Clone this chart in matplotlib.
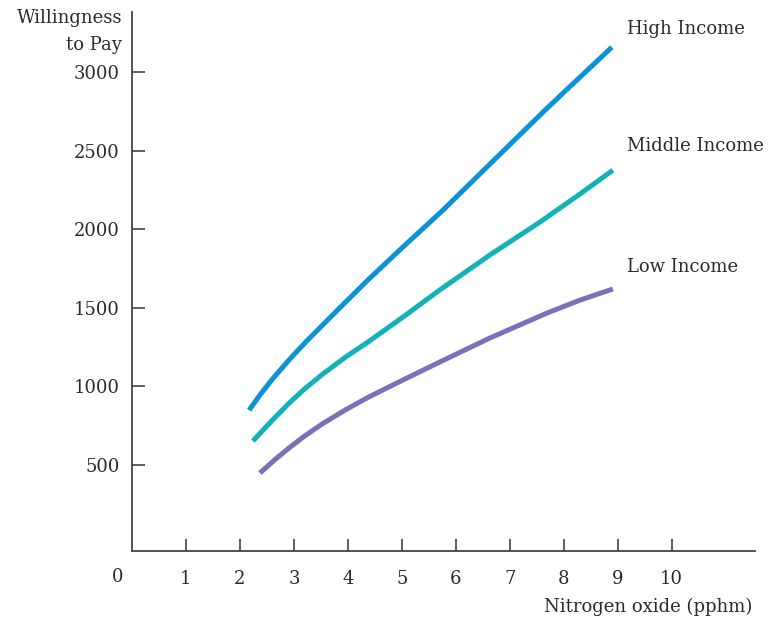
import matplotlib
matplotlib.use("Agg")
from matplotlib import pyplot as plt

# values
high_x = [2.17, 2.38, 2.61, 2.9, 3.24, 3.85, 4.37, 5.02, 5.76, 6.63, 7.69, 8.89]
high_y = [849, 950, 1050, 1165, 1290, 1500, 1677, 1887, 2121, 2414, 2770, 3158]

mid_x = [2.24, 2.6, 2.93, 3.2, 3.54, 3.95, 4.37, 5.02, 5.70, 6.63, 7.56, 8.30, 8.91]
mid_y = [653, 785, 900, 985, 1080, 1185, 1282, 1441, 1613, 1836, 2046, 2224, 2376]

low_x = [2.37, 2.65, 2.93, 3.2, 3.54, 3.95, 4.37, 5.02, 5.70, 6.63, 7.69, 8.30, 8.91]
low_y = [449, 535, 614, 685, 765, 850, 930, 1041, 1155, 1308, 1467, 1549, 1620]

x_ticks = [1, 2, 3, 4, 5, 6, 7, 8, 9, 10]
y_ticks = [500, 1000, 1500, 2000, 2500, 3000]

plt.rcParams['font.family'] = ['DejaVu Serif']
txt = '#2b2b2b'
fs = 13

fig = plt.figure(figsize=(7.79, 6.22), dpi=100)
ax = fig.add_axes([0.1694, 0.1146, 0.7996, 0.8661])

ax.plot(high_x, high_y, color='#0a93d9', lw=3.6, solid_capstyle='butt')
ax.plot(mid_x, mid_y, color='#12b3b8', lw=3.6, solid_capstyle='butt')
ax.plot(low_x, low_y, color='#7a72b8', lw=3.6, solid_capstyle='butt')

ax.text(9.17, 3273, 'High Income', fontsize=fs, color=txt, va='center')
ax.text(9.17, 2529, 'Middle Income', fontsize=fs, color=txt, va='center')
ax.text(9.17, 1760, 'Low Income', fontsize=fs, color=txt, va='center')

ax.set_xlim(0, 11.54)
ax.set_ylim(-45, 3382)
ax.set_xticks(x_ticks)
ax.set_yticks(y_ticks)
ax.tick_params(axis='x', direction='in', length=9, width=1.2, color='#444444',
               labelsize=fs, labelcolor=txt, pad=14)
ax.tick_params(axis='y', direction='in', length=9, width=1.2, color='#444444',
               labelsize=fs, labelcolor=txt, pad=9)

for s in ['top', 'right']:
    ax.spines[s].set_visible(False)
for s in ['left', 'bottom']:
    ax.spines[s].set_color('#444444')
    ax.spines[s].set_linewidth(1.3)

# origin label sits left of the corner
fig.text(118 / 779, 1 - 577 / 622, '0', fontsize=fs, color=txt,
         ha='center', va='center')

fig.text(122 / 779, 1 - 18 / 622, 'Willingness', fontsize=fs, color=txt,
         ha='right', va='center')
fig.text(122 / 779, 1 - 45 / 622, 'to Pay', fontsize=fs, color=txt,
         ha='right', va='center')
fig.text(752 / 779, 1 - 607 / 622, 'Nitrogen oxide (pphm)', fontsize=fs,
         color=txt, ha='right', va='center')

fig.savefig('out.png', dpi=100)
